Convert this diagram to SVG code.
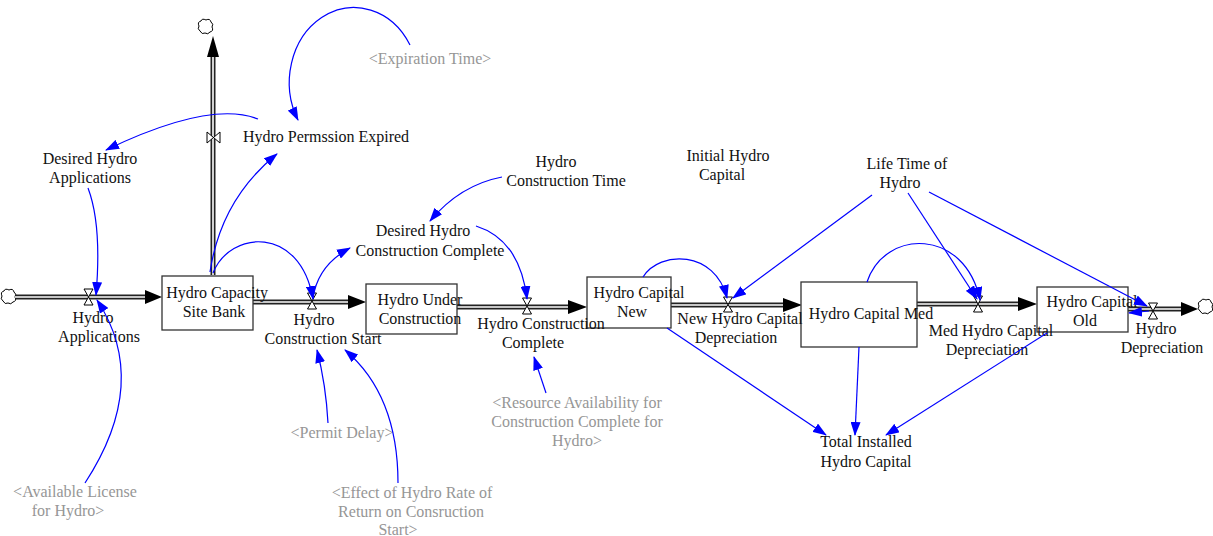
<svg xmlns="http://www.w3.org/2000/svg" width="1213" height="536" viewBox="0 0 1213 536">
  <style>
    text { font-family: "Liberation Serif", "DejaVu Serif", "Times New Roman", serif; font-size: 16px; fill: #111; text-anchor: middle; }
    text.shadow { fill: #969696; }
    .stock { fill: #fff; stroke: #333; stroke-width: 1.3; }
    .pipe-outer { fill: none; stroke: #222; stroke-width: 5; }
    .pipe-inner { fill: none; stroke: #fff; stroke-width: 1.6; }
    .pipe-head { fill: #000; }
    .valve { fill: #fff; stroke: #000; stroke-width: 1; }
    .cloud { fill: #fff; stroke: #000; stroke-width: 1; }
    .link { fill: none; stroke: #0000ff; stroke-width: 1.2; marker-end: url(#arrow); }
  </style>
  <defs>
    <marker id="arrow" markerUnits="userSpaceOnUse" markerWidth="14" markerHeight="10" refX="13" refY="5" orient="auto">
      <path d="M0,0 L14,5 L0,10 z" fill="#0000ff"/>
    </marker>
    <!-- bumpy cloud outline, centred on the origin -->
    <path id="cloudShape" d="M-6,4 q-3,-2 -1,-5 q-2,-4 2,-5 q1,-3 5,-1 q4,-2 5,2 q3,2 1,5 q2,4 -2,5 q-2,3 -5,1 q-3,2 -5,-2 z"/>
  </defs>
  <rect width="1213" height="536" fill="#fff"/>

  <!-- material flow pipes with sources and sinks -->
  <g id="pipes">
    <use href="#cloudShape" class="cloud" x="9" y="297"/>
    <path class="pipe-outer" d="M15,297 H147"/>
    <path class="pipe-inner" d="M15,297 H147"/>
    <path class="pipe-head" d="M145,290 L162,297 L145,304 z"/>

    <path class="pipe-outer" d="M253,302 H350"/>
    <path class="pipe-inner" d="M253,302 H350"/>
    <path class="pipe-head" d="M348,295 L366,302 L348,309 z"/>

    <path class="pipe-outer" d="M457,307 H570"/>
    <path class="pipe-inner" d="M457,307 H570"/>
    <path class="pipe-head" d="M568,300 L587,307 L568,314 z"/>

    <path class="pipe-outer" d="M671,305 H785"/>
    <path class="pipe-inner" d="M671,305 H785"/>
    <path class="pipe-head" d="M783,298 L802,305 L783,312 z"/>

    <path class="pipe-outer" d="M917,304 H1020"/>
    <path class="pipe-inner" d="M917,304 H1020"/>
    <path class="pipe-head" d="M1018,297 L1037,304 L1018,311 z"/>

    <path class="pipe-outer" d="M1128,309 H1183"/>
    <path class="pipe-inner" d="M1128,309 H1183"/>
    <path class="pipe-head" d="M1181,302 L1198,309 L1181,316 z"/>
    <use href="#cloudShape" class="cloud" x="1206" y="307"/>

    <path class="pipe-outer" d="M213,275 V55"/>
    <path class="pipe-inner" d="M213,275 V55"/>
    <path class="pipe-head" d="M207,57 L213,36 L219,57 z"/>
    <use href="#cloudShape" class="cloud" x="206" y="27"/>
  </g>

  <!-- stocks -->
  <g id="hydro-capacity-site-bank">
    <rect class="stock" x="162" y="276" width="91" height="54"/>
    <text x="217" y="298">Hydro Capacity</text>
    <text x="214" y="317">Site Bank</text>
  </g>
  <g id="hydro-under-construction">
    <rect class="stock" x="366" y="284" width="91" height="50"/>
    <text x="420" y="305">Hydro Under</text>
    <text x="420" y="324">Construction</text>
  </g>
  <g id="hydro-capital-new">
    <rect class="stock" x="587" y="277" width="84" height="51"/>
    <text x="639" y="298">Hydro Capital</text>
    <text x="632" y="317">New</text>
  </g>
  <g id="hydro-capital-med">
    <rect class="stock" x="801" y="282" width="116" height="65"/>
    <text x="871" y="319">Hydro Capital Med</text>
  </g>
  <g id="hydro-capital-old">
    <rect class="stock" x="1037" y="287" width="91" height="45"/>
    <text x="1092" y="307">Hydro Capital</text>
    <text x="1085" y="326">Old</text>
  </g>

  <!-- flows (valves with labels) -->
  <g id="hydro-applications">
    <polygon class="valve" points="84,289 93,289 84,305 93,305"/>
    <text x="93" y="323">Hydro</text>
    <text x="99" y="342">Applications</text>
  </g>
  <g id="hydro-permssion-expired">
    <polygon class="valve" points="207,132 207,143 220,132 220,143"/>
    <text x="326" y="142">Hydro Permssion Expired</text>
  </g>
  <g id="hydro-construction-start">
    <polygon class="valve" points="307.5,293 316.5,293 307.5,309 316.5,309"/>
    <text x="314" y="325">Hydro</text>
    <text x="323" y="344">Construction Start</text>
  </g>
  <g id="hydro-construction-complete">
    <polygon class="valve" points="522.5,298 531.5,298 522.5,314 531.5,314"/>
    <text x="541" y="329">Hydro Construction</text>
    <text x="533" y="348">Complete</text>
  </g>
  <g id="new-hydro-capital-depreciation">
    <polygon class="valve" points="723.5,297 732.5,297 723.5,312 732.5,312"/>
    <text x="740" y="324">New Hydro Capital</text>
    <text x="736" y="343">Depreciation</text>
  </g>
  <g id="med-hydro-capital-depreciation">
    <polygon class="valve" points="973.5,296 982.5,296 973.5,312 982.5,312"/>
    <text x="991" y="336">Med Hydro Capital</text>
    <text x="987" y="355">Depreciation</text>
  </g>
  <g id="hydro-depreciation">
    <polygon class="valve" points="1148.5,303 1157.5,303 1148.5,319 1157.5,319"/>
    <text x="1156" y="334">Hydro</text>
    <text x="1162" y="353">Depreciation</text>
  </g>

  <!-- auxiliaries -->
  <g id="desired-hydro-applications">
    <text x="90" y="164">Desired Hydro</text>
    <text x="90" y="183">Applications</text>
  </g>
  <g id="expiration-time">
    <text class="shadow" x="430" y="64">&lt;Expiration Time&gt;</text>
  </g>
  <g id="desired-hydro-construction-complete">
    <text x="423" y="236">Desired Hydro</text>
    <text x="430" y="256">Construction Complete</text>
  </g>
  <g id="hydro-construction-time">
    <text x="556" y="167">Hydro</text>
    <text x="566" y="186">Construction Time</text>
  </g>
  <g id="initial-hydro-capital">
    <text x="728" y="161">Initial Hydro</text>
    <text x="722" y="180">Capital</text>
  </g>
  <g id="life-time-of-hydro">
    <text x="907" y="169">Life Time of</text>
    <text x="900" y="188">Hydro</text>
  </g>
  <g id="total-installed-hydro-capital">
    <text x="866" y="447">Total Installed</text>
    <text x="866" y="467">Hydro Capital</text>
  </g>
  <g id="resource-availability">
    <text class="shadow" x="577" y="408">&lt;Resource Availability for</text>
    <text class="shadow" x="577" y="427">Construction Complete for</text>
    <text class="shadow" x="577" y="446">Hydro&gt;</text>
  </g>
  <g id="permit-delay">
    <text class="shadow" x="342" y="438">&lt;Permit Delay&gt;</text>
  </g>
  <g id="effect-of-hydro-rate-of-return">
    <text class="shadow" x="412" y="498">&lt;Effect of Hydro Rate of</text>
    <text class="shadow" x="411" y="517">Return on Consruction</text>
    <text class="shadow" x="398" y="535">Start&gt;</text>
  </g>
  <g id="available-license">
    <text class="shadow" x="75" y="497">&lt;Available License</text>
    <text class="shadow" x="68" y="516">for Hydro&gt;</text>
  </g>

  <!-- information links -->
  <g id="connectors">
    <path class="link" d="M210,272 Q221,199 277,154"/>
    <path class="link" d="M258,119 Q210,100 106,150"/>
    <path class="link" d="M410,45 A63,73 0 1 0 298,120"/>
    <path class="link" d="M88,188 Q102,225 96,295"/>
    <path class="link" d="M85,483 Q151,382 97,300"/>
    <path class="link" d="M213,273 C230,230 300,225 313,299"/>
    <path class="link" d="M313,298 Q318,265 350,248"/>
    <path class="link" d="M502,177 Q460,185 430,221"/>
    <path class="link" d="M476,226 Q520,240 527,299"/>
    <path class="link" d="M546,393 L534,357"/>
    <path class="link" d="M328,423 Q326,385 317,350"/>
    <path class="link" d="M398,483 Q398,395 345,350"/>
    <path class="link" d="M643,277 C660,250 715,250 727,298"/>
    <path class="link" d="M872,195 L733,298"/>
    <path class="link" d="M908,193 L977,299"/>
    <path class="link" d="M929,192 L1147,306"/>
    <path class="link" d="M867,282 C885,228 965,228 980,300"/>
    <path class="link" d="M1149,311 L1129,313"/>
    <path class="link" d="M667,328 L826,435"/>
    <path class="link" d="M859,347 L855,435"/>
    <path class="link" d="M1047,333 L886,435"/>
  </g>
</svg>
